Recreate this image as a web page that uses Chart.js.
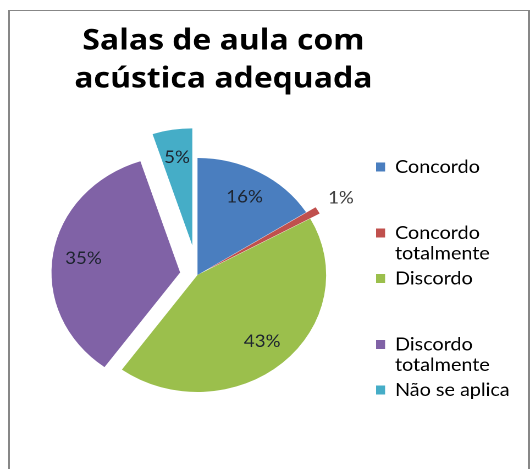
<!DOCTYPE html>
<html>
<head>
<meta charset="utf-8">
<script src="https://cdn.jsdelivr.net/npm/chart.js@4/dist/chart.umd.min.js"></script>
<style>
  body { margin: 0; background: #fff; }
  #frame { position: absolute; left: 8px; top: 10px; width: 518px; height: 480px; border: solid #878787; border-width: 1px 2px 0 2px; }
  canvas { position: absolute; left: 0; top: 0; }
</style>
</head>
<body>
<div id="frame"></div>
<!-- drawn 482 wide and shown 530 wide: the original chart is stretched sideways -->
<canvas id="pie" width="482" height="469" style="width:530px;height:469px"></canvas>
<script>
let title_lines = ['Salas de aula com', 'acústica adequada']
let categories = ['Concordo', ['Concordo', 'totalmente'], 'Discordo', ['Discordo', 'totalmente'], 'Não se aplica']
let percents = [16, 1, 43, 35, 5]
let colors = ['#4a7ebf', '#c0504d', '#9bbf4c', '#8062a6', '#45adc7']
// exploded slices, px along the middle of the slice
let explode = [0, 10, 0, 16, 30]
// the title sits a bit right of the pie centre
let title_shift = 23.6

let canvas_tag = document.getElementById('pie')

const explodePlugin = {
    id: 'explode',
    afterLayout(chart) {
        let t = chart.titleBlock
        t.left += title_shift
        t.right += title_shift
    },
    afterDatasetsUpdate(chart) {
        chart.getDatasetMeta(0).data.forEach((arc, i) => {
            let mid = (arc.startAngle + arc.endAngle) / 2
            arc.x += Math.cos(mid) * explode[i]
            arc.y += Math.sin(mid) * explode[i]
        })
    }
}

const pctLabels = {
    id: 'pctLabels',
    afterDatasetsDraw(chart) {
        let ctx = chart.ctx
        ctx.save()
        ctx.font = '17px Lato'
        ctx.textAlign = 'center'
        ctx.textBaseline = 'middle'
        chart.getDatasetMeta(0).data.forEach((arc, i) => {
            let { x, y, startAngle, endAngle, outerRadius } = arc.getProps(['x', 'y', 'startAngle', 'endAngle', 'outerRadius'], true)
            let mid = (startAngle + endAngle) / 2
            let small = percents[i] < 3
            let r = outerRadius * (small ? 1.21 : 0.76)
            ctx.fillStyle = small ? '#404040' : '#1e2530'
            ctx.fillText(percents[i] + '%', x + Math.cos(mid) * r, y + Math.sin(mid) * r)
        })
        ctx.restore()
    }
}

let myChart = new Chart(canvas_tag, {
    type: 'pie',
    data: {
        labels: categories,
        datasets: [{
            data: percents,
            backgroundColor: colors,
            borderWidth: 0,
        }]
    },
    options: {
        responsive: false,
        devicePixelRatio: 2,
        animation: false,
        events: [],
        radius: 117,
        layout: { padding: { left: 21.7, right: 19.5, top: 0, bottom: 39 } },
        plugins: {
            title: {
                display: true,
                fullSize: false,
                text: title_lines,
                color: '#000',
                font: { family: 'Open Sans', size: 29, weight: 'bold', lineHeight: 1.31 },
                padding: { top: 22, bottom: 22 }
            },
            legend: {
                position: 'right',
                align: 'start',
                fullSize: false,
                maxWidth: 125,
                title: { display: true, text: '', font: { size: 12, lineHeight: 1.2 }, padding: { top: 19.1, bottom: 0 } },
                labels: {
                    boxWidth: 8.2,
                    boxHeight: 9,
                    padding: 4.5,
                    color: '#000',
                    font: { family: 'Lato', size: 18, lineHeight: 1.139 },
                    generateLabels(chart) {
                        let items = Chart.overrides.pie.plugins.legend.labels.generateLabels(chart)
                        items.forEach((item, i) => {
                            let lines = Array.isArray(item.text) ? item.text : [item.text]
                            // one-line entries take the room of three lines, like the original legend
                            if (lines.length == 1 && i < items.length - 1) {
                                lines = [lines[0], '', '']
                            }
                            item.text = lines
                        })
                        return items
                    }
                }
            },
            tooltip: { enabled: false }
        }
    },
    plugins: [explodePlugin, pctLabels]
});
</script>
</body>
</html>
